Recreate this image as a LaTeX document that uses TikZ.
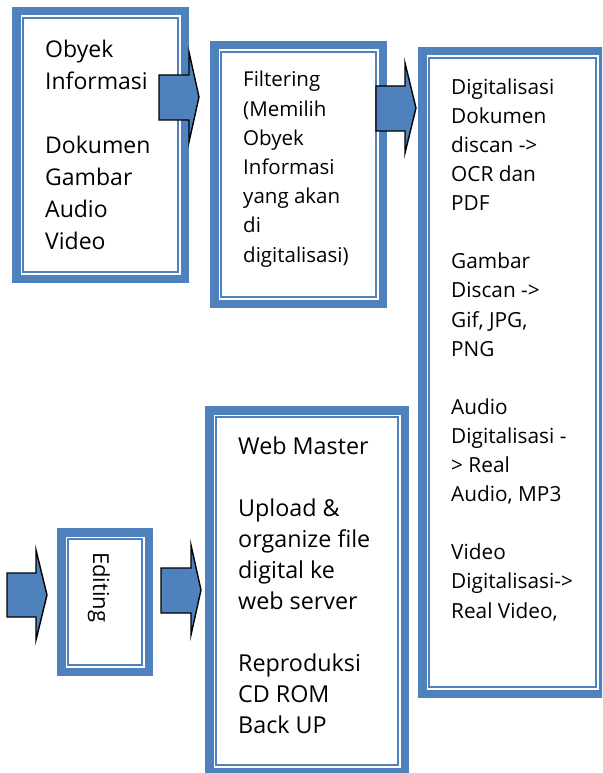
\documentclass[tikz,border=0pt]{standalone}
\usepackage{fontspec}
\setmainfont{Open Sans}
\definecolor{officeblue}{RGB}{79,129,189}
\tikzset{
  band/.style={draw=officeblue, line width=8.5pt},
  thinline/.style={draw=officeblue, line width=2.2pt},
  blockarrow/.style={fill=officeblue, draw=black, line width=1.4pt, line join=miter},
  boxtext/.style={anchor=base west, inner sep=0pt, align=left, text=black},
}
\newcommand\dblbox[4]{%
  \draw[band] (#1+4.25,#2+4.25) rectangle (#3-4.25,#4-4.25);
  \draw[thinline] (#1+11.3,#2+11.3) rectangle (#3-11.3,#4-11.3);
}
\begin{document}
\begin{tikzpicture}[x=1pt,y=-1pt]
\clip (0,0) rectangle (602,773);
\fill[white] (0,0) rectangle (602,773);
% boxes
\dblbox{12}{7}{189}{283}
\dblbox{210}{41}{387}{308}
\dblbox{418}{47}{607}{698}
\dblbox{57}{528}{153}{676}
\dblbox{205}{406}{409}{776}
% block arrows
\draw[blockarrow] (7,573) -- (36,573) -- (36,550) -- (47,595) -- (36,640) -- (36,617) -- (7,617) -- cycle;
\draw[blockarrow] (159,75) -- (189,75) -- (189,52) -- (199,97) -- (189,142) -- (189,120) -- (159,120) -- cycle;
\draw[blockarrow] (376,86) -- (405,86) -- (405,63) -- (416,108) -- (405,153) -- (405,131) -- (376,131) -- cycle;
\draw[blockarrow] (161,568) -- (191,568) -- (191,545) -- (201,590) -- (191,635) -- (191,613) -- (161,613) -- cycle;
% texts (anchored at the baseline of the last line)
\node[boxtext, font=\fontsize{23}{32}\selectfont] (t1) at (45,249)
  {Obyek\\ Informasi\\[32pt] Dokumen\\ Gambar\\ Audio\\ Video};
\node[boxtext, font=\fontsize{20.5}{29.2}\selectfont] (t2) at (243,262)
  {Filtering\\ (Memilih\\ Obyek\\ Informasi\\ yang akan\\ di\\ digitalisasi)};
\node[boxtext, font=\fontsize{20.8}{29.1}\selectfont] (t3) at (451,618)
  {Digitalisasi\\ Dokumen\\ discan ->\\ OCR dan\\ PDF\\[29.1pt]
   Gambar\\ Discan ->\\ Gif, JPG,\\ PNG\\[29.1pt]
   Audio\\ Digitalisasi -\\ > Real\\ Audio, MP3\\[29.1pt]
   Video\\ Digitalisasi->\\ Real Video,};
\node[boxtext, rotate=-90, font=\fontsize{22}{32}\selectfont] (t4) at (93,552) {Editing};
\node[boxtext, font=\fontsize{23.3}{30.9}\selectfont] (t5) at (238,733)
  {Web Master\\[30.9pt] Upload \&\\ organize file\\ digital ke\\ web server\\[30.9pt]
   Reproduksi\\ CD ROM\\ Back UP};
\end{tikzpicture}
\end{document}
